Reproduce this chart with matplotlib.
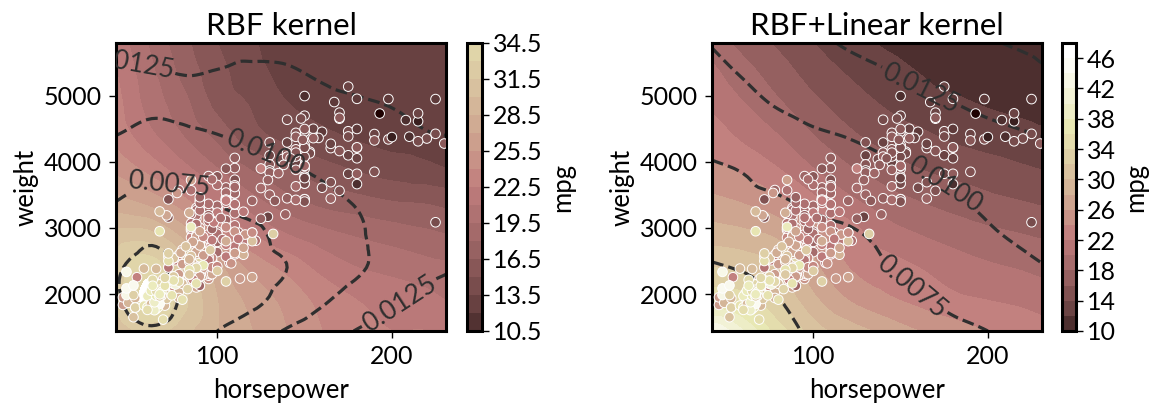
import matplotlib
matplotlib.use("Agg")
import matplotlib.pyplot as plt
import matplotlib.tri as mtri
from matplotlib import colors as mcolors
import numpy as np

plt.rcParams['font.family'] = ['Lato', 'DejaVu Sans']

mpg = [18,15,18,16,17,15,14,14,14,15, 15,14,15,14,24,22,18,21,27,26,
       25,24,25,26,21,10,10,11,9,27, 28,25,19,16,17,19,18,14,14,14,
       14,12,13,13,18,22,19,18,23,28, 30,30,31,35,27,26,24,25,23,20,
       21,13,14,15,14,17,11,13,12,13, 19,15,13,13,14,18,22,21,26,22,
       28,23,28,27,13,14,13,14,15,12, 13,13,14,13,12,13,18,16,18,18,
       23,26,11,12,13,12,18,20,21,22, 18,19,21,26,15,16,29,24,20,19,
       15,24,20,11,20,21,19,31,26,32, 25,16,16,18,16,13,14,14,14,29,
       26,26,31,32,28,24,26,24,26,31, 19,18,15,15,16,15,16,14,17,16,
       15,18,21,20,13,29,23,20,23,24, 25,24,18,29,19,23,23,22,25,33,
       28,25,25,26,27,17.5,16,15.5,14.5,22, 22,24,22.5,29,24.5,29,33,20,18,18.5,
       17.5,29.5,32,28,26.5,20,13,19,19,16.5, 16.5,13,13,13,31.5,30,36,25.5,33.5,17.5,
       17,15.5,15,17.5,20.5,19,18.5,16,15.5,15.5, 16,29,24.5,26,25.5,30.5,33.5,30,30.5,22,
       21.5,21.5,43.1,36.1,32.8,39.4,36.1,19.9,19.4,20.2, 19.2,20.5,20.2,25.1,20.5,19.4,20.6,20.8,18.6,18.1,
       19.2,17.7,18.1,17.5,30,27.5,27.2,30.9,21.1,23.2, 23.8,23.9,20.3,17,21.6,16.2,31.5,29.5,21.5,19.8,
       22.3,20.2,20.6,17,17.6,16.5,18.2,16.9,15.5,19.2, 18.5,31.9,34.1,35.7,27.4,25.4,23,27.2,23.9,34.2,
       34.5,31.8,37.3,28.4,28.8,26.8,33.5,41.5,38.1,32.1, 37.2,28,26.4,24.3,19.1,34.3,29.8,31.3,37,32.2,
       46.6,27.9,40.8,44.3,43.4,36.4,30,44.6,33.8,29.8, 32.7,23.7,35,32.4,27.2,26.6,25.8,23.5,30,39.1,
       39,35.1,32.3,37,37.7,34.1,34.7,34.4,29.9,33, 33.7,32.4,32.9,31.6,28.1,30.7,25.4,24.2,22.4,26.6,
       20.2,17.6,28,27,34,31,29,27,24,36, 37,31,38,36,36,36,34,38,32,38,
       25,38,26,22,32,36,27,27,44,32, 28,31]

horsepower = [130,165,150,150,140,198,220,215,225,190, 170,160,150,225,95,95,97,85,88,46,
       87,90,95,113,90,215,200,210,193,88, 90,95,100,105,100,88,100,165,175,153,
       150,180,170,175,110,72,100,88,86,90, 70,76,65,69,60,70,95,80,54,90,
       86,165,175,150,153,150,208,155,160,190, 97,150,130,140,150,112,76,87,69,86,
       92,97,80,88,175,150,145,137,150,198, 150,158,150,215,225,175,105,100,100,88,
       95,46,150,167,170,180,100,88,72,94, 90,85,107,90,145,230,49,75,91,112,
       150,110,122,180,95,100,100,67,80,65, 75,100,110,105,140,150,150,140,150,83,
       67,78,52,61,75,75,75,97,93,67, 95,105,72,72,170,145,150,148,110,105,
       110,95,110,110,129,75,83,100,78,96, 69,97,97,53,100,90,86,105,84,53,
       75,75,108,90,120,180,145,130,150,100, 110,105,98,78,80,70,53,100,78,110,
       95,70,70,75,72,102,150,88,120,180, 145,180,130,150,68,80,58,96,70,145,
       110,145,130,110,105,145,110,180,170,190, 149,78,88,75,89,63,83,67,78,97,
       110,110,48,66,52,70,60,95,97,85, 105,95,88,85,105,85,105,85,110,120,
       145,165,139,140,68,95,97,75,95,105, 85,97,103,125,115,133,71,68,115,85,
       88,90,110,130,129,138,135,155,142,125, 150,71,65,80,80,77,125,71,90,70,
       70,65,69,90,115,115,90,76,60,70, 65,90,88,90,90,78,90,75,92,75,
       65,105,65,48,48,67,67,67,67,62, 132,100,72,84,84,92,110,84,58,64,
       64,60,67,65,62,68,63,65,65,105, 72,100,72,84,84,120,116,120,105,85,
       88,90,88,88,88,85,84,90,92,74, 68,68,63,70,88,75,70,67,67,67,
       110,85,92,112,96,84,90,86,52,84, 79,82]

weight = [3504,3693,3436,3433,3449,4341,4354,4312,4425,3850, 3563,3609,3761,3086,2372,2833,2774,2587,2130,1835,
       2672,2430,2375,2234,2648,4615,4376,4382,4732,2130, 2264,2228,2634,3439,3329,3302,3288,4209,4464,4154,
       4096,4955,4746,5140,2962,2408,3282,3139,2220,2123, 2074,2065,1773,1613,1834,1955,2278,2126,2254,2408,
       2226,4274,4385,4135,4129,3672,4633,4502,4456,4422, 2330,3892,4098,4294,4077,2933,2511,2979,2189,2395,
       2288,2506,2164,2100,4100,3672,3988,4042,3777,4952, 4464,4363,4237,4735,4951,3821,3121,3278,2945,3021,
       2904,1950,4997,4906,4654,4499,2789,2279,2401,2379, 2124,2310,2472,2265,4082,4278,1867,2158,2582,2868,
       3399,2660,2807,3664,3102,2901,3336,1950,2451,1836, 2542,3781,3632,3613,4141,4699,4457,4638,4257,2219,
       1963,2300,1649,2003,2125,2108,2246,2489,2391,2000, 3264,3459,3432,3158,4668,4440,4498,4657,3907,3897,
       3730,3785,3039,3221,3169,2171,2639,2914,2592,2702, 2223,2545,2984,1937,3211,2765,2220,2565,2635,1795,
       2155,2542,2464,2572,2255,4215,4190,3962,4215,3233, 3353,3012,3085,2035,2164,1937,1795,3651,3574,3645,
       3193,1825,1990,2155,2565,3150,3940,3270,2930,3820, 4380,4055,3870,3755,2045,2155,1825,2300,1945,3880,
       4060,4140,4295,3520,3425,3630,3525,4220,4165,4325, 4335,1940,2740,2265,2755,2051,2075,1985,2190,2815,
       2600,2720,1985,1800,1985,2070,1800,3365,3735,3570, 3535,3155,3190,2965,3430,3210,3380,3070,3620,3410,
       3425,3445,3205,4080,2155,2560,2300,2230,2515,2745, 2855,2405,2830,3140,2795,3410,1990,2135,3245,2990,
       2890,3265,3360,3840,3725,3955,3830,4360,4054,3605, 3940,1925,1975,1915,2670,3530,3900,3190,3420,2200,
       2150,2020,2130,2670,2595,2700,2556,2144,1968,2120, 2019,2678,2870,3003,3381,2188,2711,2542,2434,2265,
       2110,2800,2110,2085,2335,2950,3250,1850,2145,1845, 2910,2420,2500,2290,2490,2635,2620,2725,2385,1755,
       1875,1760,2065,1975,2050,1985,2215,2045,2380,2190, 2210,2350,2615,2635,3230,2800,2900,2930,3415,3725,
       3060,3465,2605,2640,2395,2575,2525,2735,2865,1980, 2025,1970,2125,2125,2160,2205,2245,1965,1965,1995,
       2945,3015,2585,2835,2665,2370,2950,2790,2130,2295, 2625,2720]

n_pts = min(len(mpg), len(horsepower), len(weight))

grid_hp = [42, 60, 80, 100, 120, 140, 160, 180, 200, 220, 231]
grid_weight = [1440, 1900, 2400, 2900, 3400, 3900, 4400, 4900, 5400, 5800]

rbf_mpg = [
    [30, 32, 30.5, 28.5, 27, 25.5, 24, 23, 22.5, 22.5, 22.5],
    [32, 35, 32, 28.5, 26.5, 25, 23.5, 22.5, 22, 21.5, 21],
    [32, 34, 31, 27.5, 25, 23.5, 22, 21, 20.5, 20, 19.8],
    [30.5, 30.5, 28, 24.5, 22.5, 21, 20, 19.3, 18.8, 18.3, 18],
    [27.5, 26.5, 24.5, 22, 20, 18.5, 17.5, 17, 16.5, 16.3, 16],
    [25, 23.5, 21.5, 19.5, 17.8, 16.5, 15.5, 14.8, 14.2, 13.8, 13.5],
    [23.5, 21.5, 19.5, 17.5, 15.5, 14.5, 13.8, 13.3, 13, 13, 13],
    [23, 20.5, 18.5, 16, 14.8, 13.5, 13, 12.8, 12.8, 12.8, 12.8],
    [22.5, 20, 17.5, 15.5, 14, 13, 12.7, 12.7, 12.8, 12.8, 12.8],
    [22, 19.5, 17, 15, 13.7, 12.5, 12.2, 12.5, 12.8, 13, 13],
]
rbf_unc = [
    [6.5, 5.3, 6, 7.5, 8.9, 10.2, 11.4, 12.6, 13.5, 14.3, 14.7],
    [5.3, 3.8, 5.2, 6.2, 7, 8.3, 9.7, 11, 12.1, 13.2, 13.8],
    [5.3, 4.2, 5.9, 6.4, 6.8, 7.5, 8.6, 9.7, 10.8, 11.8, 12.2],
    [6.9, 5.5, 6, 6.3, 7, 8.2, 9, 9.8, 10.6, 11, 11.2],
    [7.5, 7, 7.2, 7.65, 8.4, 9, 9.6, 10.1, 10.6, 11, 11.2],
    [8.5, 8.2, 8.1, 8.6, 9.2, 9.8, 10.3, 10.8, 11.2, 11.6, 11.8],
    [10, 9.5, 9.6, 9.95, 10.5, 11, 11.4, 11.8, 12.1, 12.4, 12.5],
    [11.5, 10.6, 10.8, 11.2, 11.6, 11.9, 12.1, 12.35, 12.6, 13, 13.2],
    [12.2, 12.3, 12.75, 12.5, 12.3, 12.4, 12.8, 13.2, 13.5, 13.8, 14],
    [13.5, 13.4, 13.2, 13, 13, 13, 13.5, 14, 14.3, 14.6, 14.8],
]
both_mpg = [
    [44, 40, 35, 31, 29, 27.5, 26, 25, 24, 23.5, 23],
    [36, 35, 32, 28.5, 26, 24.5, 23.5, 22.5, 22, 21.5, 21],
    [32, 31.5, 30, 26.5, 24, 23, 22, 21, 20.3, 19.8, 19.5],
    [29, 28.5, 27.5, 25, 23, 21, 20, 19.2, 18.5, 18, 17.7],
    [26.5, 25.8, 24.5, 22.5, 20.5, 19, 18, 17.2, 16.5, 16, 15.7],
    [24.5, 23.5, 22, 20, 18.2, 17, 16, 15.3, 14.8, 14.2, 13.9],
    [23, 21.5, 20, 18, 16.4, 15.2, 14.4, 13.6, 13, 12.6, 12.3],
    [21.5, 20, 18.2, 16.4, 15, 13.8, 12.9, 12.3, 11.8, 11.5, 11.3],
    [20.3, 18.6, 16.8, 15, 13.7, 12.7, 11.9, 11.2, 10.9, 10.8, 10.8],
    [19, 17.3, 15.6, 14, 12.8, 11.8, 11.2, 10.8, 10.5, 10.4, 10.4],
]
both_unc = [
    [3, 3.5, 4.2, 5.4, 6, 6.5, 6.9, 7.2, 7.5, 8, 8.2],
    [3.8, 4, 4.95, 5.5, 6.2, 6.9, 7.3, 7.8, 8.3, 8.8, 9.1],
    [4.8, 5.15, 5.6, 6.2, 6.8, 7.4, 8, 8.6, 9.1, 9.6, 9.9],
    [6, 6.2, 6.6, 7, 7.3, 7.8, 8.4, 9.3, 9.8, 10.3, 10.6],
    [6.8, 7.1, 7.35, 7.75, 8.1, 8.6, 9.2, 9.7, 10.3, 10.8, 11],
    [7.3, 7.6, 8.1, 8.5, 9, 9.5, 10.1, 10.6, 11, 11.4, 11.6],
    [8.2, 8.6, 9.1, 9.7, 10.1, 10.7, 11.2, 11.6, 12, 12.35, 12.5],
    [9, 9.5, 10.2, 10.8, 11.2, 11.6, 12.1, 12.5, 12.95, 13.3, 13.5],
    [9.6, 10.2, 10.9, 11.6, 12, 12.45, 13, 13.4, 13.9, 14.4, 14.8],
    [10.1, 10.8, 11.5, 12.1, 12.7, 13.2, 13.7, 14.2, 14.8, 15.3, 15.6],
]

rbf_levels = [10.5 + 1.5 * i for i in range(17)]
both_levels = [10 + 2 * i for i in range(20)]
unc_levels = [0.005, 0.0075, 0.01, 0.0125, 0.015]
rbf_ticks = [10.5, 13.5, 16.5, 19.5, 22.5, 25.5, 28.5, 31.5, 34.5]
both_ticks = [10, 14, 18, 22, 26, 30, 34, 38, 42, 46]
rbf_label_pos = [(52, 5570), (72, 3620), (129, 4230), (206, 1800)]
both_label_pos = [(162, 5140), (173, 3530), (157, 2150)]

W, H = 1158, 409
fig = plt.figure(figsize=(W / 100, H / 100), dpi=100)
norm = mcolors.Normalize(9, 46.6)


def rect(x0, y0, x1, y1):
    return [x0 / W, 1 - y1 / H, (x1 - x0) / W, (y1 - y0) / H]


def panel(box, cbox, title, zgrid, ugrid, levels, ticks, label_pos):
    ax = fig.add_axes(rect(*box))
    cax = fig.add_axes(rect(*cbox))
    gx, gy = np.meshgrid(grid_hp, grid_weight)
    tri = mtri.Triangulation(gx.ravel(), gy.ravel())
    ref = mtri.UniformTriRefiner(tri)
    z = np.array(zgrid).ravel()
    u = np.array(ugrid).ravel() / 1000
    t2, z2 = ref.refine_field(z, mtri.CubicTriInterpolator(tri, z, kind='geom'), subdiv=3)
    t3, u2 = ref.refine_field(u, mtri.CubicTriInterpolator(tri, u, kind='geom'), subdiv=3)
    cf = ax.tricontourf(t2, z2, levels=levels, cmap='pink', norm=norm)
    cf.set_edgecolor('face')
    cf.set_linewidth(0.4)
    cs = ax.tricontour(t3, u2, levels=unc_levels, colors='#2f2f2f', linestyles='--', linewidths=2.3)
    ax.clabel(cs, fmt='%.4f', fontsize=19, manual=label_pos, inline=True, inline_spacing=3)
    ax.scatter(horsepower[:n_pts], weight[:n_pts], c=mpg[:n_pts], cmap='pink', norm=norm,
               s=48, edgecolors='white', linewidths=0.7, zorder=3)
    ax.set_xlim(42, 231)
    ax.set_ylim(1440, 5800)
    ax.set_xticks([100, 200])
    ax.set_yticks([2000, 3000, 4000, 5000])
    ax.tick_params(labelsize=18, length=5, width=1, pad=5)
    ax.set_xlabel('horsepower', fontsize=18.5, labelpad=7)
    ax.set_ylabel('weight', fontsize=18.5, labelpad=4)
    ax.set_title(title, fontsize=22.5, pad=6)
    for s in ax.spines.values():
        s.set_linewidth(2.2)
    cb = fig.colorbar(cf, cax=cax, ticks=ticks)
    cb.outline.set_linewidth(2.2)
    cb.ax.tick_params(labelsize=18, length=5, width=1, pad=3)
    cb.set_label('mpg', fontsize=18.5, labelpad=5)


panel((116, 43, 446, 331), (467, 43, 482, 331), 'RBF kernel', rbf_mpg, rbf_unc,
      rbf_levels, rbf_ticks, rbf_label_pos)
panel((712, 43, 1042, 331), (1062, 43, 1076, 331), 'RBF+Linear kernel', both_mpg, both_unc,
      both_levels, both_ticks, both_label_pos)

fig.savefig('out.png', dpi=100)
print(len(mpg), len(horsepower), len(weight))
